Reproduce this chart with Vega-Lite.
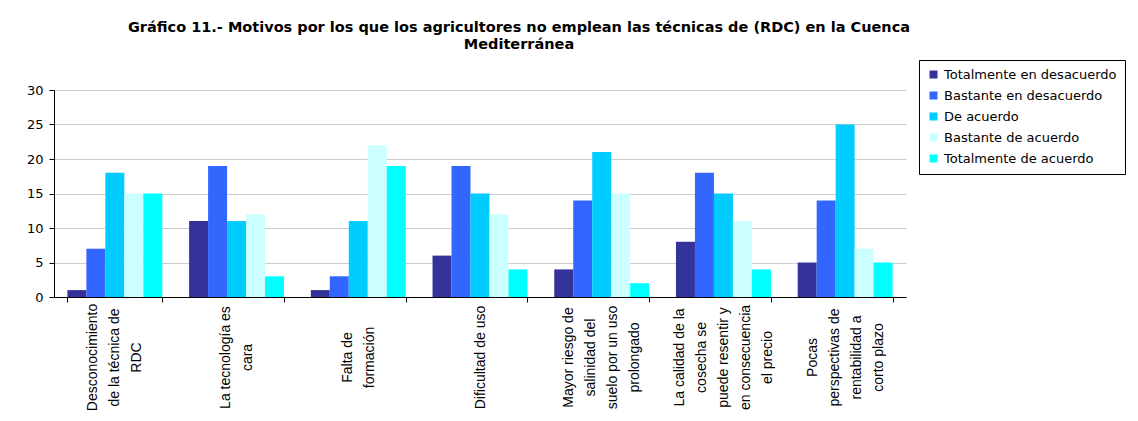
{
  "$schema": "https://vega.github.io/schema/vega-lite/v6.json",
  "width": 852,
  "height": 207,
  "autosize": {"type": "none"},
  "padding": {"left": 54, "top": 90, "right": 232, "bottom": 124},
  "background": "white",
  "title": {
    "text": ["Gráfico 11.-  Motivos por los que los agricultores no emplean las técnicas de  (RDC) en la Cuenca", "Mediterránea"],
    "font": "DejaVu Sans",
    "fontSize": 14.5,
    "fontWeight": "bold",
    "color": "black",
    "anchor": "middle",
    "dx": 39,
    "offset": 7,
    "lineHeight": 17
  },
  "data": {
    "values": [
      {"motivo": "Desconocimiento|de la técnica de|RDC", "respuesta": "Totalmente en desacuerdo", "valor": 1},
      {"motivo": "Desconocimiento|de la técnica de|RDC", "respuesta": "Bastante en desacuerdo", "valor": 7},
      {"motivo": "Desconocimiento|de la técnica de|RDC", "respuesta": "De acuerdo", "valor": 18},
      {"motivo": "Desconocimiento|de la técnica de|RDC", "respuesta": "Bastante de acuerdo", "valor": 15},
      {"motivo": "Desconocimiento|de la técnica de|RDC", "respuesta": "Totalmente de acuerdo", "valor": 15},
      {"motivo": "La tecnología es|cara", "respuesta": "Totalmente en desacuerdo", "valor": 11},
      {"motivo": "La tecnología es|cara", "respuesta": "Bastante en desacuerdo", "valor": 19},
      {"motivo": "La tecnología es|cara", "respuesta": "De acuerdo", "valor": 11},
      {"motivo": "La tecnología es|cara", "respuesta": "Bastante de acuerdo", "valor": 12},
      {"motivo": "La tecnología es|cara", "respuesta": "Totalmente de acuerdo", "valor": 3},
      {"motivo": "Falta de|formación", "respuesta": "Totalmente en desacuerdo", "valor": 1},
      {"motivo": "Falta de|formación", "respuesta": "Bastante en desacuerdo", "valor": 3},
      {"motivo": "Falta de|formación", "respuesta": "De acuerdo", "valor": 11},
      {"motivo": "Falta de|formación", "respuesta": "Bastante de acuerdo", "valor": 22},
      {"motivo": "Falta de|formación", "respuesta": "Totalmente de acuerdo", "valor": 19},
      {"motivo": "Dificultad de uso", "respuesta": "Totalmente en desacuerdo", "valor": 6},
      {"motivo": "Dificultad de uso", "respuesta": "Bastante en desacuerdo", "valor": 19},
      {"motivo": "Dificultad de uso", "respuesta": "De acuerdo", "valor": 15},
      {"motivo": "Dificultad de uso", "respuesta": "Bastante de acuerdo", "valor": 12},
      {"motivo": "Dificultad de uso", "respuesta": "Totalmente de acuerdo", "valor": 4},
      {"motivo": "Mayor riesgo de|salinidad del|suelo por un uso|prolongado", "respuesta": "Totalmente en desacuerdo", "valor": 4},
      {"motivo": "Mayor riesgo de|salinidad del|suelo por un uso|prolongado", "respuesta": "Bastante en desacuerdo", "valor": 14},
      {"motivo": "Mayor riesgo de|salinidad del|suelo por un uso|prolongado", "respuesta": "De acuerdo", "valor": 21},
      {"motivo": "Mayor riesgo de|salinidad del|suelo por un uso|prolongado", "respuesta": "Bastante de acuerdo", "valor": 15},
      {"motivo": "Mayor riesgo de|salinidad del|suelo por un uso|prolongado", "respuesta": "Totalmente de acuerdo", "valor": 2},
      {"motivo": "La calidad de la|cosecha se|puede resentir y|en consecuencia|el precio", "respuesta": "Totalmente en desacuerdo", "valor": 8},
      {"motivo": "La calidad de la|cosecha se|puede resentir y|en consecuencia|el precio", "respuesta": "Bastante en desacuerdo", "valor": 18},
      {"motivo": "La calidad de la|cosecha se|puede resentir y|en consecuencia|el precio", "respuesta": "De acuerdo", "valor": 15},
      {"motivo": "La calidad de la|cosecha se|puede resentir y|en consecuencia|el precio", "respuesta": "Bastante de acuerdo", "valor": 11},
      {"motivo": "La calidad de la|cosecha se|puede resentir y|en consecuencia|el precio", "respuesta": "Totalmente de acuerdo", "valor": 4},
      {"motivo": "Pocas|perspectivas de|rentabilidad a|corto plazo", "respuesta": "Totalmente en desacuerdo", "valor": 5},
      {"motivo": "Pocas|perspectivas de|rentabilidad a|corto plazo", "respuesta": "Bastante en desacuerdo", "valor": 14},
      {"motivo": "Pocas|perspectivas de|rentabilidad a|corto plazo", "respuesta": "De acuerdo", "valor": 25},
      {"motivo": "Pocas|perspectivas de|rentabilidad a|corto plazo", "respuesta": "Bastante de acuerdo", "valor": 7},
      {"motivo": "Pocas|perspectivas de|rentabilidad a|corto plazo", "respuesta": "Totalmente de acuerdo", "valor": 5}
    ]
  },
  "mark": {"type": "bar"},
  "encoding": {
    "x": {
      "field": "motivo",
      "type": "nominal",
      "sort": null,
      "scale": {"paddingInner": 0.22, "paddingOuter": 0.11},
      "axis": {
        "title": null,
        "labelExpr": "split(datum.label, '|')",
        "labelAngle": -90,
        "labelAlign": "center",
        "labelBaseline": "middle",
        "labelPadding": 55,
        "labelOffset": {"expr": "-(length(split(datum.value, '|')) - 1) * 11"},
        "labelLineHeight": 22,
        "labelFont": "Liberation Sans",
        "labelFontSize": 14,
        "labelColor": "black",
        "labelLimit": 200,
        "tickBand": "extent",
        "ticks": true,
        "tickSize": 5,
        "tickColor": "black",
        "domainColor": "black",
        "grid": false
      }
    },
    "xOffset": {
      "field": "respuesta",
      "sort": ["Totalmente en desacuerdo", "Bastante en desacuerdo", "De acuerdo", "Bastante de acuerdo", "Totalmente de acuerdo"]
    },
    "y": {
      "field": "valor",
      "type": "quantitative",
      "scale": {"domain": [0, 30]},
      "axis": {
        "title": null,
        "values": [0, 5, 10, 15, 20, 25, 30],
        "labelFont": "DejaVu Sans",
        "labelFontSize": 13,
        "labelColor": "black",
        "labelPadding": 6,
        "tickColor": "black",
        "tickSize": 5,
        "domainColor": "black",
        "gridColor": "#cccccc"
      }
    },
    "color": {
      "field": "respuesta",
      "type": "nominal",
      "scale": {
        "domain": ["Totalmente en desacuerdo", "Bastante en desacuerdo", "De acuerdo", "Bastante de acuerdo", "Totalmente de acuerdo"],
        "range": ["#333399", "#3366ff", "#00ccff", "#ccffff", "#00ffff"]
      },
      "legend": {
        "title": null,
        "orient": "none",
        "legendX": 865,
        "legendY": -30,
        "symbolType": "square",
        "symbolSize": 64,
        "symbolStrokeWidth": 0,
        "labelFont": "DejaVu Sans",
        "labelFontSize": 13,
        "labelColor": "black",
        "rowPadding": 7,
        "padding": 8,
        "strokeColor": "black",
        "labelLimit": 300
      }
    }
  },
  "config": {"view": {"stroke": null}}
}
